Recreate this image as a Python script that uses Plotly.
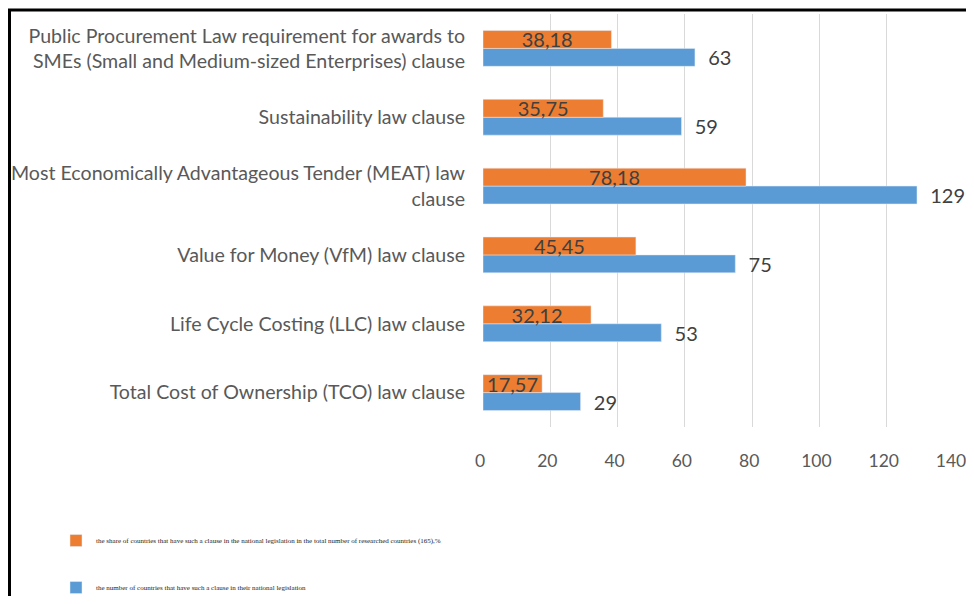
import plotly.graph_objects as go

categories = [
    "Public Procurement Law requirement for awards to<br>SMEs (Small and Medium-sized Enterprises) clause",
    "Sustainability law clause",
    "Most Economically Advantageous Tender (MEAT) law<br>clause",
    "Value for Money (VfM) law clause",
    "Life Cycle Costing (LLC) law clause",
    "Total Cost of Ownership (TCO) law clause",
]
share_pct = [38.18, 35.75, 78.18, 45.45, 32.12, 17.57]
count_countries = [63, 59, 129, 75, 53, 29]
tick_vals = [0, 20, 40, 60, 80, 100, 120, 140]

share_name = "the share of countries that have such a clause in the national legislation in the total number of researched countries (165),%"
count_name = "the number of countries that have such a clause in their national legislation"

share_text = [f"{v:.2f}".replace(".", ",") for v in share_pct]

ORANGE = "#ED7D31"
BLUE = "#5B9BD5"
LABEL_FONT = dict(family="Lato", size=20, color="#404040")

fig = go.Figure()
# blue drawn first (lower bar of each pair), orange second so its labels stay on top
fig.add_trace(go.Bar(
    y=categories, x=count_countries, orientation="h", name=count_name,
    marker=dict(color=BLUE),
    texttemplate="\u00a0\u00a0%{x}", textposition="outside",
    constraintext="none", textfont=LABEL_FONT, cliponaxis=False,
    legendgroup="b", legendrank=2,
))
fig.add_trace(go.Bar(
    y=categories, x=share_pct, orientation="h", name=share_name,
    marker=dict(color=ORANGE),
    text=share_text, texttemplate="%{text}",
    textposition="inside", insidetextanchor="middle",
    constraintext="none", textfont=LABEL_FONT, cliponaxis=False,
    legendgroup="a", legendrank=1,
))

fig.update_layout(
    width=966, height=588,
    margin=dict(l=475, r=20, t=5.5, b=168.5, autoexpand=False),
    paper_bgcolor="white", plot_bgcolor="white",
    barmode="group", bargap=0.48, bargroupgap=0,
    font=dict(family="Lato", color="#595959"),
    showlegend=True,
    legend=dict(
        orientation="v", xref="container", yref="container",
        x=0.0497, y=0.119, xanchor="left", yanchor="top",
        font=dict(family="Liberation Serif", size=7, color="#222222"),
        tracegroupgap=28, itemwidth=30, bgcolor="rgba(0,0,0,0)",
        traceorder="grouped",
    ),
    shapes=[dict(
        type="rect", xref="paper", yref="paper",
        x0=-1.0053, x1=1.2, y0=-0.6, y1=1.0097,
        line=dict(color="black", width=3), fillcolor="rgba(0,0,0,0)",
        layer="above",
    )],
)
fig.update_xaxes(
    range=[0, 140], tickvals=tick_vals, showgrid=True, gridcolor="#D9D9D9",
    gridwidth=1, zeroline=False, showline=False, automargin=False,
    tickfont=dict(family="Lato", size=17.5, color="#595959"),
    ticklabelstandoff=21, ticklabelshift=-3,
)
fig.update_yaxes(
    categoryorder="array", categoryarray=categories[::-1],
    showgrid=False, showline=False, zeroline=False,
    automargin=False,
    tickfont=dict(family="Lato", size=19.6, color="#595959"),
    ticklabelstandoff=17,
)

fig.write_html("out.html")
